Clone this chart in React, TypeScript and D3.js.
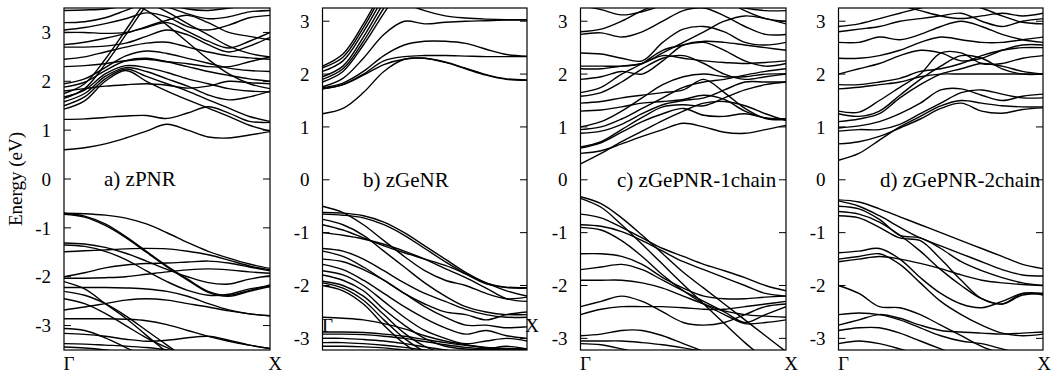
import React from "react";
import * as d3 from "d3";

const kGrid = [0, 0.1, 0.2, 0.3, 0.4, 0.5, 0.6, 0.7, 0.8, 0.9, 1.0];
const energyTicks = [-3, -2, -1, 0, 1, 2, 3];
const kLabels = ["Γ", "X"];
const panelTitles = ["a) zPNR", "b) zGeNR", "c) zGePNR-1chain", "d) zGePNR-2chain"];

const aBands = [
  [0.60, 0.64, 0.72, 0.84, 0.98, 1.12, 1.00, 0.86, 0.84, 0.90, 0.97],
  [1.22, 1.23, 1.26, 1.29, 1.30, 1.24, 1.35, 1.48, 1.35, 1.18, 1.16],
  [1.43, 1.60, 2.00, 2.22, 2.00, 1.80, 1.62, 1.45, 1.28, 1.10, 0.98],
  [1.50, 1.68, 2.05, 2.25, 2.10, 1.95, 1.80, 1.62, 1.45, 1.28, 1.18],
  [1.58, 1.75, 2.10, 2.28, 2.20, 2.05, 1.90, 1.72, 1.62, 1.68, 1.80],
  [1.68, 1.82, 2.15, 2.32, 2.28, 2.18, 2.05, 1.95, 1.85, 1.80, 1.78],
  [1.65, 1.85, 2.35, 2.95, 3.55, 4.00, 4.30, 4.50, 4.60, 4.70, 4.80],
  [1.75, 1.95, 2.45, 3.05, 3.65, 4.10, 4.40, 4.60, 4.70, 4.80, 4.90],
  [1.80, 1.85, 1.90, 1.93, 1.95, 1.92, 1.86, 1.90, 2.00, 1.97, 1.95],
  [1.88, 1.98, 2.22, 2.42, 2.47, 2.40, 2.30, 2.20, 2.12, 2.05, 2.00],
  [1.95, 2.05, 2.28, 2.52, 2.62, 2.57, 2.47, 2.37, 2.27, 2.22, 2.20],
  [2.30, 2.32, 2.36, 2.42, 2.45, 2.40, 2.36, 2.30, 2.30, 2.40, 2.50],
  [2.45, 2.50, 2.60, 2.70, 2.78, 2.80, 2.70, 2.60, 2.52, 2.48, 2.45],
  [2.70, 2.70, 2.72, 2.78, 2.92, 3.05, 2.95, 2.75, 2.60, 2.72, 2.90],
  [2.75, 2.80, 2.88, 2.98, 3.12, 3.25, 3.35, 3.20, 3.00, 2.92, 2.85],
  [3.00, 3.00, 2.98, 3.00, 3.10, 3.20, 3.02, 2.82, 2.68, 2.82, 3.00],
  [3.05, 3.10, 3.18, 3.28, 3.40, 3.32, 3.12, 3.05, 3.15, 3.30, 3.35],
  [3.20, 3.22, 3.30, 3.45, 3.60, 3.52, 3.38, 3.28, 3.32, 3.42, 3.45],
  [3.45, 3.46, 3.48, 3.55, 3.65, 3.58, 3.48, 3.45, 3.50, 3.55, 3.55],
  [3.90, 3.85, 3.75, 3.62, 3.45, 3.15, 2.80, 2.45, 2.15, 1.95, 1.85],
  [4.00, 3.95, 3.85, 3.75, 3.62, 3.42, 3.18, 2.95, 2.72, 2.57, 2.50],
  [-0.70, -0.71, -0.74, -0.80, -0.92, -1.10, -1.30, -1.48, -1.62, -1.74, -1.83],
  [-0.70, -0.76, -0.92, -1.18, -1.48, -1.78, -2.05, -2.30, -2.38, -2.28, -2.17],
  [-0.72, -0.78, -0.95, -1.20, -1.50, -1.80, -2.07, -2.32, -2.40, -2.30, -2.20],
  [-1.31, -1.33, -1.40, -1.52, -1.68, -1.85, -2.00, -2.12, -2.15, -2.05, -1.98],
  [-1.35, -1.38, -1.48, -1.65, -1.88, -2.10, -2.28, -2.38, -2.36, -2.25, -2.20],
  [-1.49, -1.47, -1.45, -1.43, -1.42, -1.43, -1.48, -1.55, -1.66, -1.78, -1.86],
  [-2.00, -1.92, -1.82, -1.76, -1.73, -1.72, -1.70, -1.68, -1.72, -1.80, -1.88],
  [-2.03, -2.03, -2.02, -2.00, -1.95, -1.90, -1.86, -1.84, -1.86, -1.90, -1.93],
  [-2.10, -2.25, -2.55, -2.85, -3.20, -3.55, -3.90, -4.20, -4.50, -4.80, -5.10],
  [-2.22, -2.22, -2.22, -2.23, -2.25, -2.30, -2.40, -2.55, -2.68, -2.76, -2.80],
  [-2.30, -2.38, -2.55, -2.80, -3.10, -3.40, -3.70, -4.00, -4.30, -4.60, -4.90],
  [-2.45, -2.55, -2.75, -3.00, -3.25, -3.45, -3.62, -3.80, -4.00, -4.20, -4.40],
  [-2.68, -2.62, -2.55, -2.48, -2.45, -2.48, -2.55, -2.62, -2.70, -2.76, -2.80],
  [-2.86, -2.86, -2.86, -2.87, -2.90, -2.98, -3.10, -3.22, -3.32, -3.40, -3.47],
  [-3.06, -3.10, -3.25, -3.45, -3.65, -3.85, -4.00, -4.10, -4.20, -4.30, -4.40],
  [-3.16, -3.18, -3.22, -3.28, -3.32, -3.30, -3.25, -3.22, -3.30, -3.40, -3.47],
  [-3.37, -3.38, -3.40, -3.42, -3.45, -3.50, -3.58, -3.65, -3.70, -3.75, -3.80],
  [-3.44, -3.46, -3.50, -3.56, -3.62, -3.68, -3.74, -3.80, -3.85, -3.90, -3.95],
];

const bBands = [
  [1.25, 1.35, 1.65, 2.05, 2.28, 2.30, 2.22, 2.10, 1.98, 1.90, 1.88],
  [1.72, 1.80, 1.98, 2.18, 2.28, 2.30, 2.23, 2.11, 1.99, 1.91, 1.89],
  [1.72, 1.80, 2.00, 2.25, 2.33, 2.35, 2.35, 2.34, 2.33, 2.33, 2.33],
  [1.74, 1.83, 2.05, 2.35, 2.55, 2.62, 2.62, 2.58, 2.47, 2.37, 2.34],
  [1.76, 1.92, 2.30, 2.75, 3.00, 2.95, 2.98, 3.00, 3.01, 3.02, 3.02],
  [1.85, 2.05, 2.55, 3.15, 3.70, 4.20, 4.60, 4.90, 5.10, 5.20, 5.30],
  [1.90, 2.10, 2.62, 3.25, 3.80, 4.30, 4.70, 5.00, 5.20, 5.30, 5.40],
  [1.95, 2.15, 2.70, 3.35, 3.90, 4.40, 4.80, 5.10, 5.30, 5.40, 5.50],
  [2.05, 2.25, 2.80, 3.45, 4.00, 4.50, 4.90, 5.20, 5.40, 5.50, 5.60],
  [2.12, 2.32, 2.88, 3.55, 4.10, 4.60, 5.00, 5.30, 5.50, 5.60, 5.70],
  [2.15, 2.38, 2.95, 3.62, 4.20, 4.70, 5.10, 5.40, 5.60, 5.70, 5.80],
  [4.20, 4.10, 3.90, 3.60, 3.35, 3.20, 3.10, 3.06, 3.04, 3.03, 3.03],
  [-0.50, -0.62, -0.85, -1.15, -1.45, -1.72, -1.90, -2.00, -2.15, -2.25, -2.22],
  [-0.62, -0.63, -0.68, -0.80, -1.00, -1.25, -1.50, -1.75, -1.95, -2.03, -2.04],
  [-0.65, -0.67, -0.72, -0.85, -1.05, -1.30, -1.55, -1.78, -1.97, -2.04, -2.05],
  [-0.75, -0.85, -1.05, -1.35, -1.65, -1.95, -2.20, -2.40, -2.50, -2.55, -2.55],
  [-0.85, -0.95, -1.10, -1.25, -1.38, -1.50, -1.62, -1.78, -1.95, -2.10, -2.20],
  [-1.00, -1.05, -1.12, -1.22, -1.35, -1.50, -1.68, -1.85, -2.05, -2.25, -2.30],
  [-1.30, -1.35, -1.50, -1.72, -1.95, -2.15, -2.30, -2.45, -2.55, -2.60, -2.60],
  [-1.35, -1.45, -1.65, -1.90, -2.15, -2.35, -2.50, -2.55, -2.65, -2.55, -2.50],
  [-1.50, -1.55, -1.70, -1.90, -2.15, -2.40, -2.60, -2.75, -2.75, -2.80, -2.78],
  [-1.60, -1.70, -1.90, -2.15, -2.40, -2.62, -2.80, -2.92, -2.85, -2.95, -3.00],
  [-1.72, -1.80, -2.00, -2.30, -2.60, -2.85, -3.00, -3.10, -3.05, -3.00, -3.05],
  [-1.80, -1.90, -2.10, -2.45, -2.75, -3.00, -3.15, -3.20, -3.20, -3.15, -3.20],
  [-1.92, -2.00, -2.20, -2.55, -2.90, -3.15, -3.30, -3.40, -3.45, -3.50, -3.50],
  [-1.95, -2.05, -2.28, -2.65, -3.00, -3.25, -3.40, -3.50, -3.55, -3.60, -3.60],
  [-2.00, -2.10, -2.35, -2.75, -3.10, -3.35, -3.50, -3.60, -3.65, -3.70, -3.70],
  [-2.60, -2.62, -2.65, -2.72, -2.82, -2.95, -3.05, -3.12, -3.18, -3.20, -3.20],
  [-2.88, -2.88, -2.89, -2.92, -2.96, -3.02, -3.08, -3.13, -3.17, -3.19, -3.20],
  [-2.92, -2.92, -2.93, -2.96, -3.00, -3.06, -3.12, -3.17, -3.20, -3.22, -3.22],
  [-3.00, -3.00, -3.02, -3.05, -3.10, -3.16, -3.22, -3.28, -3.32, -3.35, -3.35],
  [-3.08, -3.08, -3.10, -3.13, -3.17, -3.22, -3.28, -3.32, -3.36, -3.38, -3.40],
  [-3.15, -3.15, -3.16, -3.18, -3.22, -3.26, -3.30, -3.34, -3.38, -3.40, -3.42],
];

const cBands = [
  [0.30, 0.50, 0.72, 0.92, 1.12, 1.30, 1.45, 1.48, 1.40, 1.25, 1.12],
  [0.50, 0.55, 0.68, 0.82, 0.95, 1.07, 1.00, 0.90, 0.88, 0.95, 1.03],
  [0.60, 0.70, 0.90, 1.10, 1.25, 1.35, 1.22, 1.20, 1.25, 1.17, 1.15],
  [0.62, 0.72, 0.95, 1.18, 1.38, 1.42, 1.40, 1.55, 1.70, 1.80, 1.85],
  [0.88, 0.92, 1.05, 1.25, 1.42, 1.50, 1.55, 1.70, 1.85, 1.85, 1.85],
  [0.95, 1.00, 1.15, 1.35, 1.55, 1.75, 1.85, 1.90, 1.98, 2.05, 2.10],
  [1.00, 1.10, 1.30, 1.55, 1.80, 1.95, 2.00, 1.95, 1.95, 2.00, 2.00],
  [1.30, 1.32, 1.38, 1.45, 1.48, 1.52, 1.60, 1.52, 1.30, 1.17, 1.15],
  [1.45, 1.48, 1.55, 1.60, 1.65, 1.70, 1.90, 1.65, 1.35, 1.16, 1.14],
  [1.58, 1.65, 1.85, 2.10, 2.30, 2.35, 2.20, 2.00, 1.90, 1.95, 2.00],
  [1.65, 1.75, 2.00, 2.20, 2.45, 2.55, 2.60, 2.45, 2.25, 2.15, 2.20],
  [1.90, 1.95, 2.05, 2.00, 2.25, 2.55, 2.62, 2.60, 2.55, 2.50, 2.45],
  [2.10, 2.10, 2.15, 2.20, 2.40, 2.60, 2.80, 3.00, 3.10, 3.05, 2.95],
  [2.15, 2.15, 2.15, 2.20, 2.35, 2.30, 2.25, 2.22, 2.20, 2.22, 2.25],
  [2.40, 2.38, 2.30, 2.25, 2.60, 2.85, 2.90, 2.80, 2.60, 2.55, 2.60],
  [2.75, 2.78, 2.70, 2.80, 3.00, 3.20, 3.25, 3.10, 2.90, 2.75, 2.75],
  [2.80, 2.85, 3.00, 3.20, 3.35, 3.45, 3.50, 3.40, 3.20, 3.05, 3.00],
  [3.30, 3.22, 3.12, 3.18, 3.30, 3.40, 3.45, 3.35, 3.25, 3.20, 3.20],
  [-0.32, -0.45, -0.72, -1.05, -1.40, -1.75, -2.05, -2.35, -2.65, -2.95, -3.25],
  [-0.35, -0.52, -0.85, -1.22, -1.60, -1.98, -2.35, -2.72, -3.08, -3.40, -3.70],
  [-0.65, -0.72, -0.90, -1.10, -1.30, -1.45, -1.60, -1.72, -1.85, -2.00, -2.10],
  [-0.85, -0.88, -0.98, -1.15, -1.35, -1.55, -1.70, -1.85, -2.00, -2.15, -2.20],
  [-0.90, -0.95, -1.15, -1.45, -1.80, -2.10, -2.35, -2.55, -2.72, -2.70, -2.65],
  [-1.40, -1.40, -1.45, -1.60, -1.85, -2.05, -2.20, -2.25, -2.25, -2.22, -2.20],
  [-1.70, -1.65, -1.60, -1.70, -1.90, -2.10, -2.30, -2.50, -2.70, -2.55, -2.40],
  [-1.90, -1.90, -1.90, -1.95, -2.05, -2.20, -2.35, -2.48, -2.55, -2.58, -2.60],
  [-2.40, -2.30, -2.20, -2.30, -2.50, -2.70, -2.75, -2.70, -2.55, -2.40, -2.35],
  [-2.55, -2.45, -2.40, -2.40, -2.40, -2.42, -2.45, -2.45, -2.40, -2.35, -2.30],
  [-2.95, -2.92, -2.85, -2.85, -2.95, -3.10, -3.25, -3.40, -3.55, -3.70, -3.85],
  [-3.05, -3.05, -3.05, -3.08, -3.12, -3.18, -3.25, -3.32, -3.40, -3.48, -3.55],
  [-3.10, -3.12, -3.20, -3.30, -3.42, -3.55, -3.68, -3.80, -3.92, -4.05, -4.15],
];

const dBands = [
  [0.37, 0.50, 0.75, 1.00, 1.20, 1.40, 1.50, 1.45, 1.40, 1.38, 1.38],
  [0.68, 0.72, 0.82, 0.98, 1.15, 1.35, 1.45, 1.30, 1.26, 1.33, 1.36],
  [0.92, 0.95, 0.95, 1.05, 1.25, 1.45, 1.65, 1.70, 1.62, 1.55, 1.55],
  [0.98, 1.02, 1.10, 1.25, 1.45, 1.70, 1.72, 1.60, 1.50, 1.58, 1.62],
  [1.10, 1.15, 1.25, 1.55, 1.80, 2.00, 2.10, 2.20, 2.15, 2.05, 2.00],
  [1.25, 1.20, 1.30, 1.60, 1.90, 2.15, 2.35, 2.30, 2.10, 2.00, 2.00],
  [1.30, 1.28, 1.50, 1.75, 2.00, 2.40, 2.40, 2.20, 2.20, 2.30, 2.35],
  [1.72, 1.75, 1.80, 1.85, 1.95, 2.00, 2.00, 2.00, 2.00, 2.00, 2.00],
  [1.80, 1.80, 1.85, 1.92, 2.05, 2.10, 2.20, 2.35, 2.45, 2.50, 2.50],
  [2.00, 2.10, 2.20, 2.35, 2.45, 2.40, 2.25, 2.30, 2.45, 2.55, 2.55],
  [2.30, 2.30, 2.35, 2.45, 2.60, 2.70, 2.65, 2.60, 2.60, 2.65, 2.70],
  [2.60, 2.60, 2.70, 2.65, 2.75, 2.90, 3.00, 2.90, 2.75, 2.65, 2.60],
  [2.80, 2.85, 2.90, 3.00, 3.05, 3.10, 3.15, 3.00, 2.90, 3.00, 3.05],
  [2.90, 2.95, 3.05, 3.15, 3.25, 3.30, 3.35, 3.25, 3.10, 2.98, 2.95],
  [3.60, 3.50, 3.40, 3.30, 3.20, 3.10, 3.05, 3.10, 3.15, 3.10, 3.15],
  [-0.38, -0.42, -0.55, -0.70, -0.85, -1.00, -1.15, -1.30, -1.45, -1.60, -1.68],
  [-0.40, -0.50, -0.68, -0.90, -1.10, -1.25, -1.40, -1.55, -1.70, -1.80, -1.82],
  [-0.50, -0.55, -0.75, -1.05, -1.10, -1.30, -1.55, -1.72, -1.85, -1.95, -2.00],
  [-0.60, -0.65, -0.80, -1.05, -1.35, -1.70, -2.00, -2.25, -2.35, -2.15, -2.15],
  [-0.68, -0.72, -0.90, -1.10, -1.15, -1.50, -1.90, -2.25, -2.35, -2.18, -2.15],
  [-1.38, -1.35, -1.30, -1.50, -1.85, -2.15, -2.35, -2.42, -2.30, -2.15, -2.18],
  [-1.50, -1.45, -1.40, -1.60, -1.95, -2.30, -2.55, -2.75, -2.90, -2.95, -2.92],
  [-1.55, -1.50, -1.45, -1.50, -1.58, -1.68, -1.80, -1.90, -1.95, -1.98, -2.00],
  [-2.00, -2.15, -2.40, -2.42, -2.55, -2.75, -2.95, -3.15, -3.30, -3.45, -3.60],
  [-2.55, -2.52, -2.55, -2.65, -2.80, -2.95, -3.05, -3.10, -3.20, -3.30, -3.35],
  [-2.75, -2.65, -2.55, -2.62, -2.75, -2.85, -2.88, -2.90, -2.92, -2.90, -2.88],
  [-2.85, -2.80, -2.80, -2.90, -3.05, -3.20, -3.35, -3.50, -3.60, -3.70, -3.80],
  [-3.10, -3.05, -3.10, -3.20, -3.32, -3.45, -3.55, -3.65, -3.75, -3.85, -3.95],
];

const FONT = "'Liberation Serif', 'Times New Roman', serif";
const TOP = 8;
const BOTTOM = 350;

type PanelCfg = {
  left: number;
  right: number;
  domain: [number, number];
  bands: number[][];
  title: string;
  titleX: number;
  kLabelY: number;
  xLabelDx: number;
};

const panels: PanelCfg[] = [
  { left: 64, right: 270, domain: [-3.5, 3.5], bands: aBands, title: panelTitles[0], titleX: 104, kLabelY: 370, xLabelDx: 5 },
  { left: 322.5, right: 527, domain: [-3.22, 3.25], bands: bBands, title: panelTitles[1], titleX: 363, kLabelY: 332, xLabelDx: 5 },
  { left: 580.5, right: 786, domain: [-3.22, 3.25], bands: cBands, title: panelTitles[2], titleX: 617, kLabelY: 370, xLabelDx: 5 },
  { left: 838.5, right: 1043, domain: [-3.22, 3.25], bands: dBands, title: panelTitles[3], titleX: 880, kLabelY: 370, xLabelDx: 1 },
];

function Panel({ cfg, idx }: { cfg: PanelCfg; idx: number }) {
  const x = d3.scaleLinear().domain([0, 1]).range([cfg.left, cfg.right]);
  const y = d3.scaleLinear().domain(cfg.domain).range([BOTTOM, TOP]);
  const line = d3
    .line<number>()
    .x((_, i) => x(kGrid[i]))
    .y((d) => y(d))
    .curve(d3.curveCatmullRom.alpha(0.5));
  const clipId = `clip-${idx}`;
  return (
    <g>
      <defs>
        <clipPath id={clipId}>
          <rect x={cfg.left} y={TOP} width={cfg.right - cfg.left} height={BOTTOM - TOP} />
        </clipPath>
      </defs>
      <g clipPath={`url(#${clipId})`}>
        {cfg.bands.map((b, i) => (
          <path key={i} d={line(b) || ""} fill="none" stroke="#000" strokeWidth={1.4} />
        ))}
      </g>
      <rect x={cfg.left} y={TOP} width={cfg.right - cfg.left} height={BOTTOM - TOP} fill="none" stroke="#000" strokeWidth={1.2} />
      {energyTicks.map((t) => (
        <g key={t}>
          <line x1={cfg.left} x2={cfg.left + 7} y1={y(t)} y2={y(t)} stroke="#000" strokeWidth={1} />
          <line x1={cfg.right - 7} x2={cfg.right} y1={y(t)} y2={y(t)} stroke="#000" strokeWidth={1} />
          <text x={cfg.left - 13} y={y(t)} dy="0.35em" textAnchor="end" fontFamily={FONT} fontSize={19}>
            {t}
          </text>
        </g>
      ))}
      <text x={cfg.titleX} y={y(0)} dy="0.35em" fontFamily={FONT} fontSize={21}>
        {cfg.title}
      </text>
      <text x={x(0) + 5} y={cfg.kLabelY} textAnchor="middle" fontFamily={FONT} fontSize={19}>
        {kLabels[0]}
      </text>
      <text x={x(1) + cfg.xLabelDx} y={cfg.kLabelY} textAnchor="middle" fontFamily={FONT} fontSize={19}>
        {kLabels[1]}
      </text>
    </g>
  );
}

export default function App() {
  return (
    <svg
      width={1052}
      height={373}
      style={{ position: "absolute", left: 0, top: 0, background: "#fff" }}
    >
      <rect width={1052} height={373} fill="#fff" />
      {panels.map((p, i) => (
        <Panel key={i} cfg={p} idx={i} />
      ))}
      <text
        transform="translate(22,179) rotate(-90)"
        textAnchor="middle"
        fontFamily={FONT}
        fontSize={19}
      >
        Energy (eV)
      </text>
    </svg>
  );
}
